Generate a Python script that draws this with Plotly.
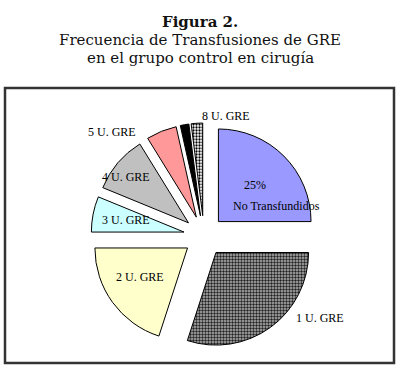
import plotly.graph_objects as go

W, H = 412, 378

labels = ["No Transfundidos", "1 U. GRE", "2 U. GRE", "3 U. GRE", "4 U. GRE",
          "5 U. GRE", "6 U. GRE", "8 U. GRE"]
values = [25, 30, 20, 6.2, 10, 5.3, 1.5, 2.0]
colors = ["#9999ff", "#b4b4b4", "#ffffcc", "#ccffff", "#c0c0c0", "#ff9999", "#000000", "#ffffff"]
pattern_shapes = ["", ".", "", "", "", "", "", "."]
pattern_fg = ["#000", "#222222", "#000", "#000", "#000", "#000", "#000", "#000"]
pattern_bg = [c for c in colors]
pattern_size = [4, 3, 4, 4, 4, 4, 4, 3]
pattern_solidity = [0.3, 0.5, 0.3, 0.3, 0.3, 0.3, 0.3, 0.45]

title_lines = ["<b>Figura 2.</b>", "Frecuencia de Transfusiones de GRE",
               "en el grupo control en cirugía"]


def px(x, y):
    return x / W, 1 - y / H


cx, cy = 204, 236
half = 113
x0, y0 = px(cx - half, cy + half)
x1, y1 = px(cx + half, cy - half)

fig = go.Figure(go.Pie(
    labels=labels,
    values=values,
    sort=False,
    direction="clockwise",
    rotation=0,
    pull=[0.22] * len(values),
    textinfo="none",
    hoverinfo="label+percent",
    marker=dict(
        colors=colors,
        line=dict(color="#000000", width=1),
        pattern=dict(shape=pattern_shapes, fgcolor=pattern_fg, bgcolor=pattern_bg,
                     size=pattern_size, solidity=pattern_solidity),
    ),
    domain=dict(x=[x0, x1], y=[y0, y1]),
    showlegend=False,
))

font_lbl = dict(family="Liberation Serif, Times New Roman, serif", size=12, color="#000")

label_pos = {
    "8 U. GRE": (226, 116),
    "5 U. GRE": (112, 132),
    "4 U. GRE": (126, 177),
    "3 U. GRE": (126, 220),
    "2 U. GRE": (140, 277),
    "1 U. GRE": (320, 318),
    "25%": (255, 185),
    "No Transfundidos": (276, 206),
}
annotations = []
for txt, (lx, ly) in label_pos.items():
    ax, ay = px(lx, ly)
    annotations.append(dict(text=txt, x=ax, y=ay, xref="paper", yref="paper",
                            showarrow=False, font=font_lbl, xanchor="center", yanchor="middle"))

title_y = [22, 40, 58]
for t, ty in zip(title_lines, title_y):
    ax, ay = px(200, ty)
    annotations.append(dict(text=t, x=ax, y=ay, xref="paper", yref="paper", showarrow=False,
                            font=dict(family="DejaVu Serif, serif", size=15, color="#111"),
                            xanchor="center", yanchor="middle"))

bx0, by0 = px(5, 363)
bx1, by1 = px(394, 88)
fig.update_layout(
    width=W, height=H,
    margin=dict(l=0, r=0, t=0, b=0),
    paper_bgcolor="#ffffff",
    plot_bgcolor="#ffffff",
    annotations=annotations,
    shapes=[dict(type="rect", xref="paper", yref="paper", x0=bx0, y0=by0, x1=bx1, y1=by1,
                 line=dict(color="#333333", width=2.5), fillcolor="rgba(0,0,0,0)")],
)

fig.write_html("out.html", config={"displayModeBar": False},
               post_script="document.body.style.margin='0';")
